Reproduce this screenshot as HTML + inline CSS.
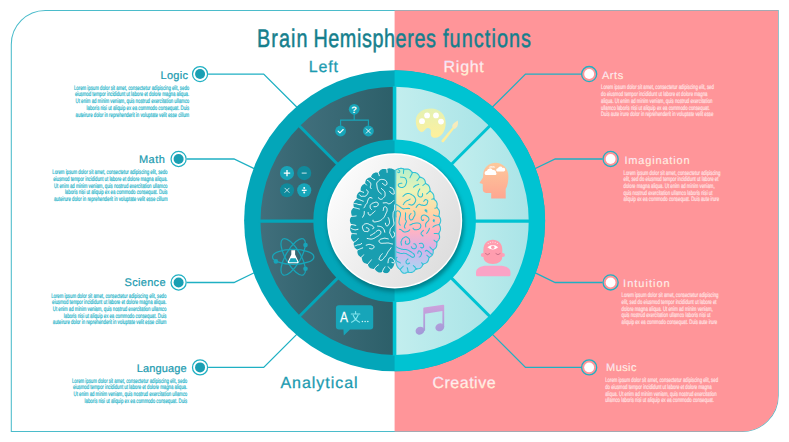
<!DOCTYPE html>
<html><head><meta charset="utf-8"><title>Brain Hemispheres functions</title>
<style>
html,body{margin:0;padding:0;background:#fff;}
body{width:789px;height:442px;overflow:hidden;font-family:"Liberation Sans",sans-serif;}
svg{display:block;position:absolute;left:0;top:0;}
text{font-family:"Liberation Sans",sans-serif;text-rendering:geometricPrecision;}
</style></head><body>
<svg width="789" height="442" viewBox="0 0 789 442">
<defs>
<clipPath id="clipL"><rect x="0" y="0" width="394.6" height="442"/></clipPath>
<clipPath id="clipR"><rect x="394.6" y="0" width="400" height="442"/></clipPath>
<linearGradient id="gSegL" x1="0" y1="0" x2="1" y2="0"><stop offset="0" stop-color="#416f7c"/><stop offset="1" stop-color="#2c5f69"/></linearGradient>
<linearGradient id="gSegR" x1="0" y1="0" x2="1" y2="0"><stop offset="0" stop-color="#c3eeee"/><stop offset="1" stop-color="#a9e4e7"/></linearGradient>
<linearGradient id="gDisc" x1="0.05" y1="0.2" x2="0.98" y2="0.75"><stop offset="0" stop-color="#fcfcfc"/><stop offset="0.5" stop-color="#ececec"/><stop offset="1" stop-color="#dddddd"/></linearGradient>
<filter id="fSh" x="-30%" y="-30%" width="160%" height="160%"><feGaussianBlur stdDeviation="2.2"/></filter>
<linearGradient id="gBrainR" x1="0" y1="0" x2="0" y2="1"><stop offset="0" stop-color="#b5f0cc"/><stop offset="0.22" stop-color="#ecf4b6"/><stop offset="0.42" stop-color="#ffd6a6"/><stop offset="0.60" stop-color="#ffb3c4"/><stop offset="0.78" stop-color="#d4b2ea"/><stop offset="1" stop-color="#a4dcf2"/></linearGradient>
<linearGradient id="gLabR" x1="0" y1="0.15" x2="0.12" y2="0.95"><stop offset="0" stop-color="#ecdfff"/><stop offset="0.45" stop-color="#fff0f2"/><stop offset="1" stop-color="#fff3bd"/></linearGradient>
<linearGradient id="gPal" x1="0" y1="0" x2="0" y2="1"><stop offset="0" stop-color="#e4f2b4"/><stop offset="1" stop-color="#fff09c"/></linearGradient>
<linearGradient id="gHead" x1="0" y1="0" x2="0" y2="1"><stop offset="0" stop-color="#fcc99c"/><stop offset="1" stop-color="#ffa691"/></linearGradient>
<linearGradient id="gInt" gradientUnits="userSpaceOnUse" x1="0" y1="240" x2="0" y2="276"><stop offset="0" stop-color="#ff9cab"/><stop offset="1" stop-color="#f8a6d2"/></linearGradient>
<linearGradient id="gMus" gradientUnits="userSpaceOnUse" x1="0" y1="304" x2="0" y2="335"><stop offset="0" stop-color="#cfa2dc"/><stop offset="1" stop-color="#a09ad8"/></linearGradient>
</defs>
<path d="M45.3 10.5 H778.2 V395.4 A36 36 0 0 1 742.2 431.4 H11.3 V44.5 A34 34 0 0 1 45.3 10.5 Z" fill="none" stroke="#4bbccb" stroke-width="1.05"/>
<path d="M394.6 10.5 H778.2 V395.4 A36 36 0 0 1 742.2 431.4 H394.6 Z" fill="#ff9599"/>
<polyline points="208.1,74.1 263.7,74.1 299.0,109.3" fill="none" stroke="#1fb0c3" stroke-width="1.3" stroke-linejoin="miter"/>
<circle cx="200.05" cy="74.05" r="7.55" fill="#fff" stroke="#1fb0c3" stroke-width="1.25"/>
<circle cx="200.05" cy="74.05" r="5.0" fill="#1a9fb3"/>
<polyline points="186.6,159.0 234.0,159.0 257.0,170.0" fill="none" stroke="#1fb0c3" stroke-width="1.3" stroke-linejoin="miter"/>
<circle cx="178.60" cy="158.97" r="7.55" fill="#fff" stroke="#1fb0c3" stroke-width="1.25"/>
<circle cx="178.60" cy="158.97" r="5.0" fill="#1a9fb3"/>
<polyline points="208.1,367.4 263.7,367.4 299.0,332.1" fill="none" stroke="#1fb0c3" stroke-width="1.3" stroke-linejoin="miter"/>
<circle cx="200.05" cy="367.39" r="7.55" fill="#fff" stroke="#1fb0c3" stroke-width="1.25"/>
<circle cx="200.05" cy="367.39" r="5.0" fill="#1a9fb3"/>
<polyline points="186.6,282.5 234.0,282.5 257.0,271.4" fill="none" stroke="#1fb0c3" stroke-width="1.3" stroke-linejoin="miter"/>
<circle cx="178.60" cy="282.47" r="7.55" fill="#fff" stroke="#1fb0c3" stroke-width="1.25"/>
<circle cx="178.60" cy="282.47" r="5.0" fill="#1a9fb3"/>
<polyline points="581.2,74.1 525.5,74.1 490.2,109.3" fill="none" stroke="#1fb0c3" stroke-width="1.3" stroke-linejoin="miter"/>
<circle cx="589.15" cy="74.05" r="7.55" fill="#ff9599" stroke="#1fb0c3" stroke-width="1.3"/>
<circle cx="589.15" cy="74.05" r="4.95" fill="#fff"/>
<polyline points="602.6,159.0 555.2,159.0 532.2,170.0" fill="none" stroke="#1fb0c3" stroke-width="1.3" stroke-linejoin="miter"/>
<circle cx="610.60" cy="158.97" r="7.55" fill="#ff9599" stroke="#1fb0c3" stroke-width="1.3"/>
<circle cx="610.60" cy="158.97" r="4.95" fill="#fff"/>
<polyline points="581.2,367.4 525.5,367.4 490.2,332.1" fill="none" stroke="#1fb0c3" stroke-width="1.3" stroke-linejoin="miter"/>
<circle cx="589.15" cy="367.39" r="7.55" fill="#ff9599" stroke="#1fb0c3" stroke-width="1.3"/>
<circle cx="589.15" cy="367.39" r="4.95" fill="#fff"/>
<polyline points="602.6,282.5 555.2,282.5 532.2,271.4" fill="none" stroke="#1fb0c3" stroke-width="1.3" stroke-linejoin="miter"/>
<circle cx="610.60" cy="282.47" r="7.55" fill="#ff9599" stroke="#1fb0c3" stroke-width="1.3"/>
<circle cx="610.60" cy="282.47" r="4.95" fill="#fff"/>
<g>
<circle cx="394.60" cy="220.85" r="150.50" fill="#03a6b9"/>
<path d="M395.30 354.95 A134.10 134.10 0 0 1 299.28 315.18 L336.81 278.04 A81.30 81.30 0 0 0 395.03 302.15 Z" fill="url(#gSegL)"/>
<path d="M300.27 316.17 A134.10 134.10 0 0 1 260.50 220.15 L313.30 220.42 A81.30 81.30 0 0 0 337.41 278.64 Z" fill="url(#gSegL)"/>
<path d="M260.50 221.55 A134.10 134.10 0 0 1 300.27 125.53 L337.41 163.06 A81.30 81.30 0 0 0 313.30 221.28 Z" fill="url(#gSegL)"/>
<path d="M299.28 126.52 A134.10 134.10 0 0 1 395.30 86.75 L395.03 139.55 A81.30 81.30 0 0 0 336.81 163.66 Z" fill="url(#gSegL)"/>
<line x1="474.35" y1="221.15" x2="530.15" y2="221.15" stroke="#03a6b9" stroke-width="3.1"/>
<line x1="450.98" y1="277.58" x2="490.43" y2="317.03" stroke="#03a6b9" stroke-width="3.0"/>
<line x1="338.12" y1="277.58" x2="298.67" y2="317.03" stroke="#03a6b9" stroke-width="3.0"/>
<line x1="314.75" y1="221.15" x2="258.95" y2="221.15" stroke="#03a6b9" stroke-width="3.1"/>
<line x1="338.12" y1="164.72" x2="298.67" y2="125.27" stroke="#03a6b9" stroke-width="3.0"/>
<line x1="450.98" y1="164.72" x2="490.43" y2="125.27" stroke="#03a6b9" stroke-width="3.0"/>
</g>
<g clip-path="url(#clipR)">
<circle cx="394.60" cy="220.85" r="150.50" fill="#00c3d2"/>
<path d="M393.90 86.75 A134.10 134.10 0 0 1 489.92 126.52 L452.39 163.66 A81.30 81.30 0 0 0 394.17 139.55 Z" fill="url(#gSegR)"/>
<path d="M488.93 125.53 A134.10 134.10 0 0 1 528.70 221.55 L475.90 221.28 A81.30 81.30 0 0 0 451.79 163.06 Z" fill="url(#gSegR)"/>
<path d="M528.70 220.15 A134.10 134.10 0 0 1 488.93 316.17 L451.79 278.64 A81.30 81.30 0 0 0 475.90 220.42 Z" fill="url(#gSegR)"/>
<path d="M489.92 315.18 A134.10 134.10 0 0 1 393.90 354.95 L394.17 302.15 A81.30 81.30 0 0 0 452.39 278.04 Z" fill="url(#gSegR)"/>
<line x1="474.35" y1="221.15" x2="530.15" y2="221.15" stroke="#00c3d2" stroke-width="3.1"/>
<line x1="450.98" y1="277.58" x2="490.43" y2="317.03" stroke="#00c3d2" stroke-width="3.0"/>
<line x1="338.12" y1="277.58" x2="298.67" y2="317.03" stroke="#00c3d2" stroke-width="3.0"/>
<line x1="314.75" y1="221.15" x2="258.95" y2="221.15" stroke="#00c3d2" stroke-width="3.1"/>
<line x1="338.12" y1="164.72" x2="298.67" y2="125.27" stroke="#00c3d2" stroke-width="3.0"/>
<line x1="450.98" y1="164.72" x2="490.43" y2="125.27" stroke="#00c3d2" stroke-width="3.0"/>
</g>
<line x1="394.55" y1="140.55" x2="394.55" y2="86.15" stroke="#00c3d2" stroke-width="3.6"/>
<line x1="394.55" y1="301.15" x2="394.55" y2="355.55" stroke="#00c3d2" stroke-width="3.6"/>
<circle cx="395.8" cy="223.7" r="68.2" fill="#04565f" opacity="0.6" filter="url(#fSh)"/>
<circle cx="394.6" cy="220.8" r="67.6" fill="#ffffff"/>
<circle cx="394.6" cy="220.8" r="66.1" fill="url(#gDisc)"/>
<!--BRAIN-->
<g>
<path d="M394.9 170.0L394.7 169.9L394.5 169.8L394.3 169.7L394.0 169.5L393.7 169.4L393.3 169.2L392.9 169.0L392.5 168.9L392.0 168.8L391.5 168.6L390.9 168.5L390.3 168.4L389.6 168.3L388.9 168.4L388.2 168.5L387.5 168.7L386.8 169.0L386.1 169.2L385.3 169.1L384.4 169.1L383.5 169.1L382.5 169.1L381.6 169.4L380.8 169.8L380.1 170.5L379.4 171.2L378.8 172.0L378.1 172.6L377.1 172.5L376.2 172.5L375.3 172.6L374.4 172.9L373.6 173.2L372.9 173.8L372.2 174.5L371.7 175.3L371.3 176.2L370.8 177.2L369.7 177.4L368.7 177.8L367.7 178.2L366.9 178.9L366.2 179.6L365.7 180.5L365.4 181.5L365.2 182.5L365.1 183.5L364.1 184.0L363.3 184.5L362.5 185.0L361.9 185.7L361.4 186.4L361.0 187.3L360.8 188.2L360.6 189.1L360.6 190.2L360.5 191.2L359.6 191.8L358.8 192.4L358.1 193.1L357.5 193.9L357.1 194.7L356.8 195.6L356.7 196.6L356.7 197.6L356.8 198.6L356.4 199.4L355.7 200.0L355.0 200.7L354.3 201.4L353.9 202.2L353.6 203.1L353.4 204.1L353.5 205.2L353.7 206.4L353.8 207.5L352.9 208.3L352.2 209.2L351.6 210.1L351.2 211.1L351.1 212.2L351.2 213.2L351.4 214.3L351.7 215.3L351.6 216.3L351.0 217.2L350.4 218.1L350.1 219.1L349.9 220.0L349.9 221.0L350.1 221.9L350.4 222.8L350.8 223.7L351.4 224.5L351.0 225.4L350.6 226.3L350.3 227.2L350.1 228.2L350.1 229.1L350.2 230.0L350.5 230.9L351.0 231.8L351.5 232.7L351.9 233.6L351.5 234.6L351.2 235.6L351.0 236.6L351.0 237.6L351.2 238.5L351.6 239.3L352.1 240.1L352.7 240.8L353.4 241.4L353.9 242.2L353.8 243.1L353.7 244.1L353.8 245.1L354.0 246.1L354.3 247.0L354.9 247.8L355.7 248.6L356.6 249.3L357.4 250.0L357.4 251.2L357.4 252.3L357.6 253.3L357.9 254.2L358.3 255.0L358.9 255.7L359.6 256.3L360.4 256.9L361.3 257.4L361.8 258.1L361.9 259.1L362.2 260.0L362.5 260.9L363.0 261.7L363.5 262.3L364.3 262.9L365.1 263.3L366.0 263.6L367.0 263.9L367.7 264.4L368.1 265.3L368.5 266.2L369.1 267.0L369.7 267.7L370.5 268.2L371.4 268.5L372.4 268.8L373.4 268.9L374.4 268.9L375.1 269.4L375.7 270.2L376.4 271.0L377.1 271.6L377.9 272.1L378.8 272.4L379.7 272.5L380.7 272.5L381.6 272.3L382.4 272.0L383.1 272.1L383.8 272.5L384.6 272.9L385.3 273.1L386.1 273.2L386.9 273.1L387.6 272.9L388.3 272.5L388.8 272.0L389.3 271.4L389.7 270.7L390.1 270.0L390.5 269.3L391.2 268.9L391.9 268.4L392.4 267.8L392.9 267.2L393.2 266.7L393.6 266.1L393.8 265.5L394.0 264.8L394.2 264.2L394.3 263.7L394.5 263.1L394.6 262.7L394.8 262.3L394.9 262.0Z" fill="#199eb0"/>
<path d="M386.7 168.7Q386.9 169.9 387.0 170.5Q387.0 171.1 387.1 171.7L387.1 172.3M378.0 172.3Q378.5 173.4 378.7 174.0Q378.9 174.5 379.1 175.1L379.3 175.7M370.6 176.9Q371.5 177.7 372.0 178.1Q372.5 178.5 373.0 178.8Q373.5 179.1 374.0 179.3L374.6 179.6M364.8 183.3Q365.7 184.1 366.2 184.5L366.6 185.0M360.2 191.0Q361.3 191.5 361.9 191.7Q362.5 191.9 363.0 192.1L363.6 192.3M356.5 198.4Q357.6 198.9 358.2 199.2Q358.7 199.4 359.3 199.6Q359.8 199.8 360.4 200.1Q361.0 200.3 361.5 200.5Q362.1 200.7 362.6 201.0L363.2 201.2M353.5 207.4Q354.6 207.7 355.2 207.9Q355.8 208.0 356.4 208.2Q356.9 208.3 357.5 208.5Q358.1 208.7 358.7 208.8L359.3 209.0M351.3 216.3Q352.5 216.3 353.1 216.3Q353.7 216.3 354.3 216.2Q354.9 216.2 355.5 216.0L356.1 215.9M351.1 224.6Q352.3 224.6 352.9 224.7Q353.5 224.8 354.0 224.9Q354.6 225.1 355.2 225.3L355.8 225.4M351.6 233.7Q352.8 233.6 353.4 233.6Q354.0 233.6 354.6 233.7Q355.2 233.7 355.8 233.8L356.4 233.9M353.6 242.3Q354.7 241.7 355.2 241.4Q355.7 241.1 356.2 240.7Q356.6 240.3 357.1 239.9Q357.5 239.5 357.9 239.0L358.2 238.5M357.2 250.2Q358.3 249.7 358.8 249.4Q359.4 249.2 359.9 249.0Q360.5 248.7 361.0 248.5Q361.6 248.3 362.1 248.1L362.7 247.9M361.1 257.5Q362.0 256.8 362.4 256.3Q362.8 255.9 363.1 255.4L363.5 254.9M367.5 264.6Q368.3 263.7 368.7 263.2Q369.0 262.8 369.4 262.3Q369.8 261.8 370.2 261.3Q370.5 260.9 370.9 260.4L371.3 259.9M374.2 269.1Q374.9 268.1 375.3 267.7Q375.7 267.2 376.1 266.8Q376.5 266.3 377.0 265.9Q377.4 265.6 377.9 265.2L378.4 264.9M382.3 272.3Q382.6 271.2 382.8 270.6Q383.0 270.0 383.3 269.5Q383.6 269.0 383.9 268.4Q384.2 267.9 384.6 267.5L384.9 267.0M390.7 269.5Q389.9 268.7 389.5 268.2Q389.1 267.8 388.7 267.3L388.3 266.8M374.0 206.7Q375.5 206.8 376.2 206.6Q376.9 206.4 377.5 205.9Q378.0 205.4 378.2 204.7Q378.5 203.9 378.1 203.3Q377.8 202.6 377.1 202.4Q376.3 202.1 375.6 202.2Q374.9 202.3 374.2 202.6Q373.5 202.9 372.8 203.1Q372.0 203.3 371.5 203.8Q371.0 204.4 370.5 204.9Q370.0 205.5 370.1 206.2Q370.2 207.0 370.2 207.7Q370.3 208.5 370.9 208.9L371.4 209.4M358.0 229.3Q356.5 229.6 355.8 229.8Q355.1 229.9 354.4 229.7Q353.6 229.5 352.9 229.3Q352.2 229.1 351.6 228.7L350.9 228.3M381.3 193.9Q380.2 193.0 379.6 192.5Q379.0 192.1 378.6 191.4Q378.3 190.8 378.0 190.1Q377.7 189.4 377.4 188.7Q377.2 188.0 377.1 187.2Q377.0 186.5 376.9 185.7Q376.8 185.0 376.7 184.3Q376.5 183.5 376.9 182.9Q377.3 182.2 377.8 181.7Q378.3 181.1 378.8 180.6Q379.3 180.0 380.0 179.7Q380.7 179.5 381.5 179.4Q382.2 179.4 382.9 179.5Q383.7 179.5 384.4 179.8Q385.1 180.0 385.7 180.5Q386.3 181.0 386.6 181.7Q386.9 182.3 387.0 183.1Q387.1 183.8 386.7 184.5Q386.4 185.1 385.6 185.3Q384.9 185.4 384.3 184.9Q383.7 184.4 383.1 184.0L382.5 183.5M367.2 238.5Q368.7 238.7 369.4 238.9Q370.2 239.0 370.9 239.1Q371.7 239.1 372.4 238.9Q373.1 238.7 373.8 238.4Q374.5 238.2 375.1 237.7Q375.7 237.3 376.4 236.9Q377.0 236.5 377.7 236.2Q378.4 235.8 379.0 235.4Q379.6 235.0 380.1 234.4Q380.6 233.8 380.8 233.1Q381.0 232.4 380.8 231.7Q380.6 231.0 380.0 230.6Q379.3 230.2 378.6 230.2Q377.8 230.3 377.2 230.7Q376.6 231.1 376.0 231.6Q375.5 232.1 375.0 232.7Q374.4 233.2 373.7 233.5Q373.1 233.8 372.5 234.3Q371.9 234.8 371.2 235.0L370.5 235.3M366.5 227.7Q368.0 228.0 368.5 228.6Q369.0 229.1 369.0 229.9Q368.9 230.6 368.4 231.2Q367.9 231.7 367.1 231.6Q366.4 231.5 365.6 231.5Q364.9 231.5 364.2 231.2Q363.5 230.9 363.3 230.2Q363.1 229.4 362.8 228.8Q362.5 228.1 362.4 227.3Q362.3 226.6 362.7 226.0Q363.1 225.3 363.6 224.8Q364.1 224.2 364.8 224.0Q365.5 223.7 366.2 223.6Q367.0 223.6 367.7 223.7Q368.4 223.8 369.0 224.3Q369.6 224.7 370.4 224.9Q371.1 225.0 371.8 225.4Q372.4 225.7 373.0 226.3Q373.5 226.8 373.8 227.5Q374.1 228.2 373.4 228.4L372.7 228.7M361.2 204.8Q359.7 204.6 359.0 204.6Q358.2 204.5 357.6 204.2Q356.9 203.8 356.2 203.7Q355.4 203.6 354.7 203.6L353.9 203.6M391.0 247.8Q390.2 249.1 389.7 249.7Q389.2 250.2 388.8 250.8Q388.3 251.4 387.9 252.0Q387.5 252.7 387.2 253.4Q386.9 254.0 386.5 254.7Q386.2 255.4 385.7 255.9Q385.2 256.5 384.7 257.1Q384.2 257.6 383.8 258.2Q383.3 258.8 382.8 259.4Q382.3 259.9 381.6 260.2Q380.9 260.5 380.2 260.3Q379.5 260.1 379.2 259.4Q378.9 258.7 379.3 258.1Q379.7 257.4 380.0 256.7Q380.3 256.0 380.7 255.4Q381.2 254.8 381.7 254.3L382.3 253.8M371.1 188.6Q370.1 187.5 370.3 186.8Q370.6 186.1 370.7 185.4Q370.9 184.7 370.8 183.9Q370.7 183.2 370.2 182.6Q369.8 182.0 369.2 181.5Q368.6 181.0 367.9 180.7L367.3 180.3M392.5 244.0Q391.0 243.8 390.3 243.5Q389.6 243.3 388.9 243.1Q388.1 242.9 387.4 243.0Q386.6 243.0 385.9 243.1Q385.1 243.3 384.4 243.2Q383.6 243.2 382.9 243.3Q382.2 243.3 381.4 243.3Q380.7 243.2 380.0 242.8Q379.4 242.4 379.1 241.7Q378.8 241.0 379.2 240.4Q379.6 239.8 380.2 239.4Q380.9 239.1 381.6 238.9Q382.4 238.7 383.1 238.5Q383.8 238.3 384.5 238.2Q385.3 238.2 386.0 238.4Q386.7 238.6 387.5 238.7L388.2 238.9M359.4 194.7Q360.3 195.9 361.0 196.2Q361.7 196.6 362.4 196.3Q363.1 196.1 363.8 196.3Q364.5 196.4 365.2 196.2Q366.0 196.0 366.4 195.4Q366.9 194.8 367.3 194.2Q367.7 193.5 368.0 192.8Q368.3 192.2 368.0 191.5Q367.7 190.8 367.1 190.3L366.5 189.9M384.8 232.2Q384.5 230.7 384.2 230.0Q383.9 229.3 383.5 228.7Q383.1 228.1 382.5 227.6Q381.9 227.1 381.2 226.8Q380.6 226.5 379.8 226.4Q379.1 226.3 378.3 226.2L377.6 226.1M393.7 231.9Q394.4 233.2 394.6 233.9Q394.8 234.7 394.5 235.4Q394.3 236.1 393.8 236.7Q393.4 237.3 392.7 237.7Q392.1 238.0 391.9 237.3Q391.7 236.5 391.3 235.9Q390.9 235.3 390.6 234.6Q390.3 233.9 389.9 233.3Q389.5 232.6 389.8 231.9Q390.1 231.2 390.1 230.5Q390.1 229.7 390.4 229.1Q390.7 228.4 391.2 227.8Q391.7 227.3 392.2 226.7Q392.8 226.2 393.2 225.6Q393.7 225.0 393.8 224.3Q394.0 223.5 393.9 222.8Q393.8 222.0 393.6 221.3Q393.4 220.6 393.4 219.8Q393.3 219.1 393.2 218.4Q393.1 217.6 393.0 216.9Q392.9 216.1 393.0 215.4Q393.0 214.6 393.1 213.9Q393.1 213.1 393.2 212.4Q393.4 211.7 393.9 211.1Q394.4 210.5 394.4 209.8Q394.4 209.0 394.6 208.3Q394.7 207.6 394.6 206.8Q394.4 206.1 394.6 205.4L394.9 204.7M368.1 212.5Q368.2 214.0 368.7 214.5Q369.2 215.1 370.0 215.1Q370.7 215.1 371.2 214.6Q371.7 214.0 372.2 213.5Q372.8 213.0 373.4 212.6Q374.0 212.2 374.5 211.6L375.0 211.0M373.0 220.2Q372.7 221.7 373.5 221.8Q374.2 222.0 375.0 221.9Q375.7 221.9 376.4 221.7Q377.2 221.6 377.9 221.4Q378.6 221.3 379.3 221.0Q380.0 220.6 380.7 220.3Q381.3 220.0 381.9 219.5Q382.4 219.0 383.0 218.4Q383.5 217.9 384.0 217.3Q384.4 216.7 384.8 216.1Q385.1 215.4 385.4 214.7Q385.6 214.0 386.0 213.3Q386.3 212.7 386.6 212.0Q387.0 211.3 387.1 210.6Q387.2 209.8 387.1 209.1Q387.0 208.3 386.7 207.7Q386.3 207.1 385.5 206.8Q384.8 206.6 384.2 207.0Q383.6 207.5 383.5 208.2Q383.5 208.9 383.4 209.7L383.2 210.4M393.6 200.6Q392.5 201.7 392.0 202.2Q391.4 202.7 390.8 203.1Q390.1 203.5 389.4 203.7Q388.7 204.0 388.1 203.6Q387.5 203.1 386.8 202.8Q386.1 202.6 385.4 202.7Q384.6 202.8 383.9 202.9L383.2 202.9M389.6 191.2Q390.5 192.4 391.0 193.0Q391.5 193.5 392.2 193.8Q392.9 194.1 393.6 194.1Q394.4 194.1 394.3 193.3Q394.2 192.6 394.1 191.8Q394.1 191.1 393.8 190.4Q393.4 189.7 393.2 189.0Q392.9 188.3 392.2 188.1Q391.5 187.9 390.8 187.6L390.1 187.3M372.1 198.1Q370.8 197.4 370.0 197.5Q369.3 197.6 368.9 198.3Q368.5 198.9 368.2 199.6Q367.9 200.3 367.6 201.0Q367.4 201.7 367.3 202.4Q367.1 203.2 366.6 203.7Q366.1 204.2 365.6 204.8Q365.2 205.4 365.0 206.1Q364.9 206.9 364.3 207.4L363.8 207.9M391.9 262.5Q393.2 263.1 393.9 262.7Q394.5 262.4 394.5 261.6Q394.4 260.9 394.1 260.2Q393.7 259.6 393.3 259.0Q392.8 258.4 392.1 258.1Q391.4 257.8 390.7 257.6Q390.0 257.4 389.5 257.9Q389.0 258.5 388.7 259.2Q388.4 259.9 388.3 260.6Q388.1 261.3 388.1 262.1L388.0 262.8M362.7 217.2Q363.4 215.9 363.8 215.2Q364.2 214.6 364.2 213.8Q364.3 213.1 364.3 212.3L364.3 211.6M378.3 197.7Q379.3 198.8 380.0 199.1Q380.6 199.5 381.4 199.3Q382.1 199.2 382.6 198.7Q383.2 198.1 383.7 197.6Q384.2 197.0 384.7 196.5Q385.1 195.9 385.1 195.1Q385.1 194.4 385.1 193.6Q385.1 192.9 384.9 192.2Q384.6 191.5 384.1 190.9Q383.6 190.4 383.0 189.9Q382.4 189.5 381.9 188.9L381.3 188.4M369.6 248.4Q371.0 248.9 371.7 248.9Q372.5 248.8 373.1 248.4Q373.8 248.0 374.0 247.3Q374.2 246.6 373.8 245.9Q373.4 245.3 372.6 245.3Q371.9 245.2 371.2 244.8Q370.6 244.4 369.8 244.4Q369.1 244.4 368.3 244.5Q367.6 244.7 366.9 245.0L366.2 245.2M361.7 243.5Q360.5 244.5 359.8 244.6Q359.1 244.8 358.3 244.8Q357.6 244.8 356.9 245.2Q356.3 245.5 355.5 245.7L354.8 245.9M385.4 223.2Q385.5 224.7 385.9 225.3Q386.4 225.9 387.2 225.9Q387.9 225.9 388.3 225.2Q388.6 224.5 389.0 223.9Q389.5 223.3 389.5 222.6Q389.6 221.8 389.4 221.1Q389.3 220.4 389.1 219.6Q388.9 218.9 388.6 218.2L388.2 217.6" fill="none" stroke="#ffffff" stroke-width="0.95" stroke-linecap="round" stroke-linejoin="round"/>
</g>
<g>
<path d="M395.7 170.0L395.9 169.9L396.1 169.8L396.3 169.7L396.6 169.5L396.9 169.4L397.3 169.2L397.7 169.0L398.1 168.9L398.6 168.8L399.1 168.6L399.7 168.5L400.3 168.4L401.0 168.3L401.7 168.4L402.4 168.5L403.1 168.7L403.8 169.0L404.5 169.2L405.3 169.1L406.2 169.1L407.1 169.1L408.1 169.1L409.0 169.4L409.8 169.8L410.5 170.5L411.2 171.2L411.8 172.0L412.5 172.6L413.5 172.5L414.4 172.5L415.3 172.6L416.2 172.9L417.0 173.2L417.7 173.8L418.4 174.5L418.9 175.3L419.3 176.2L419.8 177.2L420.9 177.4L421.9 177.8L422.9 178.2L423.7 178.9L424.4 179.6L424.9 180.5L425.2 181.5L425.4 182.5L425.5 183.5L426.5 184.0L427.3 184.5L428.1 185.0L428.7 185.7L429.2 186.4L429.6 187.3L429.8 188.2L430.0 189.1L430.0 190.2L430.1 191.2L431.0 191.8L431.8 192.4L432.5 193.1L433.1 193.9L433.5 194.7L433.8 195.6L433.9 196.6L433.9 197.6L433.8 198.6L434.2 199.4L434.9 200.0L435.6 200.7L436.3 201.4L436.7 202.2L437.0 203.1L437.2 204.1L437.1 205.2L436.9 206.4L436.8 207.5L437.7 208.3L438.4 209.2L439.0 210.1L439.4 211.1L439.5 212.2L439.4 213.2L439.2 214.3L438.9 215.3L439.0 216.3L439.6 217.2L440.2 218.1L440.5 219.1L440.7 220.0L440.7 221.0L440.5 221.9L440.2 222.8L439.8 223.7L439.2 224.5L439.6 225.4L440.0 226.3L440.3 227.2L440.5 228.2L440.5 229.1L440.4 230.0L440.1 230.9L439.6 231.8L439.1 232.7L438.7 233.6L439.1 234.6L439.4 235.6L439.6 236.6L439.6 237.6L439.4 238.5L439.0 239.3L438.5 240.1L437.9 240.8L437.2 241.4L436.7 242.2L436.8 243.1L436.9 244.1L436.8 245.1L436.6 246.1L436.3 247.0L435.7 247.8L434.9 248.6L434.0 249.3L433.2 250.0L433.2 251.2L433.2 252.3L433.0 253.3L432.7 254.2L432.3 255.0L431.7 255.7L431.0 256.3L430.2 256.9L429.3 257.4L428.8 258.1L428.7 259.1L428.4 260.0L428.1 260.9L427.6 261.7L427.1 262.3L426.3 262.9L425.5 263.3L424.6 263.6L423.6 263.9L422.9 264.4L422.5 265.3L422.1 266.2L421.5 267.0L420.9 267.7L420.1 268.2L419.2 268.5L418.2 268.8L417.2 268.9L416.2 268.9L415.5 269.4L414.9 270.2L414.2 271.0L413.5 271.6L412.7 272.1L411.8 272.4L410.9 272.5L409.9 272.5L409.0 272.3L408.2 272.0L407.5 272.1L406.8 272.5L406.0 272.9L405.3 273.1L404.5 273.2L403.7 273.1L403.0 272.9L402.3 272.5L401.8 272.0L401.3 271.4L400.9 270.7L400.5 270.0L400.1 269.3L399.4 268.9L398.7 268.4L398.2 267.8L397.7 267.2L397.4 266.7L397.0 266.1L396.8 265.5L396.6 264.8L396.4 264.2L396.3 263.7L396.1 263.1L396.0 262.7L395.8 262.3L395.7 262.0Z" fill="url(#gBrainR)" stroke="#35c3d6" stroke-width="1.1"/>
<path d="M403.9 168.7Q403.7 169.9 403.7 170.5Q403.6 171.1 403.5 171.7Q403.5 172.3 403.5 172.9L403.4 173.5M412.6 172.3Q412.1 173.4 411.8 174.0Q411.6 174.5 411.3 175.0Q411.0 175.6 410.8 176.1Q410.5 176.6 410.2 177.2L409.9 177.7M420.0 176.9Q419.2 177.9 418.8 178.3Q418.5 178.8 418.1 179.3Q417.7 179.7 417.4 180.2L417.0 180.7M425.8 183.3Q424.8 184.0 424.3 184.4Q423.8 184.7 423.3 185.1L422.9 185.4M430.4 191.0Q429.3 191.7 428.8 192.0Q428.4 192.4 427.9 192.8Q427.4 193.2 427.0 193.6L426.6 194.0M434.1 198.4Q433.0 198.9 432.4 199.1L431.8 199.3M437.1 207.4Q436.0 207.8 435.5 208.1L434.9 208.3M439.3 216.3Q438.1 216.3 437.5 216.2Q436.9 216.2 436.3 216.1Q435.7 216.0 435.1 215.8Q434.5 215.6 434.0 215.3L433.4 215.1M439.5 224.6Q438.3 224.6 437.7 224.8Q437.2 224.9 436.6 225.1Q436.0 225.2 435.5 225.5Q434.9 225.7 434.4 226.0Q433.9 226.3 433.4 226.7L432.9 227.1M439.0 233.7Q437.8 233.6 437.2 233.6Q436.6 233.5 436.0 233.5Q435.4 233.5 434.8 233.5L434.2 233.5M437.0 242.3Q435.9 241.7 435.4 241.4Q434.9 241.0 434.5 240.6L434.0 240.2M433.4 250.2Q432.4 249.5 432.0 249.2Q431.5 248.8 431.1 248.4Q430.6 247.9 430.3 247.5L429.9 247.0M429.5 257.5Q428.6 256.8 428.1 256.4Q427.7 256.0 427.3 255.6L426.8 255.2M423.1 264.6Q422.3 263.7 421.9 263.2L421.6 262.7M416.4 269.1Q415.7 268.1 415.3 267.6Q415.0 267.2 414.6 266.7Q414.2 266.3 413.7 265.9L413.3 265.5M408.3 272.3Q408.1 271.1 407.9 270.6Q407.8 270.0 407.7 269.4Q407.5 268.8 407.4 268.2L407.2 267.7M399.9 269.5Q400.8 268.7 401.2 268.3Q401.6 267.9 402.0 267.4Q402.5 267.0 402.9 266.5L403.2 266.1M400.5 177.1Q402.0 177.3 402.8 177.3Q403.5 177.4 404.2 177.6Q405.0 177.9 405.5 178.4Q406.0 179.0 406.2 179.7Q406.5 180.4 406.6 181.1Q406.7 181.9 406.5 182.6Q406.3 183.3 406.0 184.0Q405.8 184.7 405.4 185.4Q405.1 186.1 404.5 186.5Q404.0 187.0 403.2 187.2Q402.5 187.5 401.8 187.5Q401.0 187.4 400.3 187.2Q399.6 187.1 399.0 186.6Q398.4 186.1 398.3 185.4Q398.1 184.7 398.6 184.1Q399.0 183.5 399.8 183.4Q400.5 183.4 401.3 183.3L402.0 183.2M419.4 243.6Q420.8 243.2 421.6 243.3Q422.3 243.5 422.8 244.0Q423.3 244.6 423.6 245.3Q423.8 246.0 423.6 246.7Q423.4 247.5 422.7 247.8Q422.0 248.0 421.4 247.7L420.7 247.3M400.2 225.2Q399.2 224.0 399.1 223.3Q398.9 222.6 399.0 221.8Q399.1 221.1 399.2 220.3Q399.4 219.6 399.5 218.9Q399.6 218.1 399.8 217.4Q400.0 216.7 400.2 216.0Q400.5 215.2 400.5 214.5Q400.6 213.8 400.4 213.0Q400.3 212.3 399.7 211.8Q399.2 211.2 398.5 211.0Q397.8 210.7 397.1 210.9Q396.4 211.1 396.1 211.8Q395.8 212.5 395.8 213.3Q395.8 214.0 395.8 214.8Q395.7 215.5 395.9 216.3L396.0 217.0M396.2 246.9Q397.5 247.6 398.3 247.9Q399.0 248.1 399.7 248.4Q400.3 248.7 401.0 248.9Q401.8 249.2 402.5 249.3Q403.2 249.5 404.0 249.5Q404.7 249.5 405.5 249.5Q406.2 249.5 407.0 249.7Q407.7 249.8 408.3 250.2Q409.0 250.5 409.6 251.0Q410.2 251.4 410.9 251.8Q411.5 252.2 412.1 252.6Q412.8 253.0 413.3 253.5Q413.9 254.0 414.3 254.6Q414.6 255.3 414.5 256.0Q414.4 256.8 413.7 257.1Q413.1 257.5 412.3 257.3Q411.6 257.2 411.1 256.6Q410.6 256.1 409.9 255.7Q409.2 255.4 408.6 255.1Q407.9 254.8 407.3 254.4Q406.7 253.9 406.0 253.6Q405.3 253.4 404.5 253.3Q403.8 253.1 403.1 253.3Q402.3 253.5 401.6 253.4Q400.8 253.3 400.1 253.2Q399.4 253.0 398.7 252.8Q397.9 252.6 397.3 252.3L396.6 251.9M425.8 227.0Q425.5 225.5 425.6 224.8Q425.6 224.0 426.0 223.4Q426.4 222.8 426.9 222.2Q427.5 221.7 428.0 221.1Q428.5 220.6 428.8 219.9Q429.1 219.2 428.9 218.5Q428.7 217.7 428.2 217.2Q427.8 216.6 427.1 216.2Q426.4 215.9 425.8 215.5Q425.1 215.2 424.3 215.1Q423.6 215.0 422.9 215.3Q422.2 215.6 421.7 216.2Q421.3 216.8 421.2 217.5Q421.2 218.3 421.4 219.0Q421.7 219.7 422.2 220.3Q422.7 220.8 423.2 220.3L423.7 219.8M409.7 224.9Q411.2 224.6 411.9 224.2Q412.5 223.9 413.2 223.6Q413.9 223.3 414.6 223.2Q415.4 223.1 416.1 223.0Q416.9 222.9 417.6 222.9Q418.4 222.9 419.1 223.2Q419.7 223.5 420.2 224.0Q420.7 224.6 420.8 225.4Q420.9 226.1 420.7 226.8Q420.5 227.6 420.1 228.1Q419.6 228.7 418.9 229.1Q418.3 229.5 417.6 229.6Q416.8 229.8 416.1 229.8Q415.3 229.9 414.6 229.7Q413.9 229.4 413.5 228.8L413.0 228.2M409.6 208.6Q408.1 208.3 407.4 208.4Q406.6 208.4 405.9 208.6Q405.2 208.7 404.4 208.8Q403.7 209.0 403.0 208.7Q402.3 208.4 401.6 208.1Q400.9 207.8 400.4 207.2Q399.9 206.7 399.3 206.2Q398.8 205.7 398.1 205.4Q397.4 205.0 396.8 204.7L396.1 204.4M410.1 199.1Q408.9 199.9 408.2 200.2Q407.5 200.5 406.8 200.8Q406.1 201.1 405.6 201.6Q405.0 202.1 404.5 202.7Q404.0 203.3 403.7 203.9L403.3 204.6M426.5 233.3Q427.6 232.4 427.9 231.7Q428.2 231.0 428.6 230.4Q429.0 229.7 429.2 229.0L429.4 228.3M397.7 172.0Q398.8 173.0 399.3 172.5Q399.8 171.9 399.7 171.2Q399.5 170.4 398.9 170.1L398.2 169.7M411.0 213.5Q410.0 214.6 409.6 215.2Q409.3 215.9 409.2 216.6Q409.2 217.4 409.4 218.1Q409.7 218.8 410.1 219.4Q410.5 220.1 411.3 220.0Q412.0 219.9 412.5 219.3Q413.1 218.8 413.3 218.1Q413.6 217.4 413.9 216.7Q414.3 216.1 414.7 215.4Q415.1 214.8 415.0 214.0Q414.9 213.3 414.9 212.5Q414.9 211.8 414.3 211.3L413.8 210.8M405.1 228.1Q404.2 227.0 404.4 226.2Q404.6 225.5 404.9 224.8Q405.3 224.2 405.5 223.5Q405.8 222.8 406.2 222.1Q406.6 221.5 406.2 220.8Q405.8 220.2 405.5 219.5Q405.2 218.8 405.4 218.1Q405.5 217.3 405.5 216.6Q405.4 215.8 405.5 215.1Q405.6 214.3 405.6 213.6L405.5 212.8M402.9 196.3Q404.1 195.3 404.7 194.8Q405.3 194.4 406.0 194.1Q406.7 193.8 407.4 193.6Q408.1 193.5 408.9 193.5Q409.6 193.5 410.3 193.9Q411.0 194.2 411.6 194.6Q412.2 195.0 412.9 195.4Q413.5 195.8 414.0 196.4Q414.5 197.0 414.9 197.6Q415.3 198.2 415.5 198.9Q415.8 199.7 415.7 200.4Q415.6 201.2 415.3 201.8Q415.0 202.5 414.5 203.1Q414.1 203.7 413.5 204.2Q412.9 204.6 412.2 204.9Q411.5 205.3 410.9 204.9Q410.2 204.6 409.5 204.4L408.7 204.3M405.7 241.0Q405.2 242.4 405.4 243.1Q405.6 243.9 406.3 244.1Q407.0 244.4 407.7 244.2Q408.4 244.0 409.0 243.5Q409.5 243.0 409.7 242.3Q409.9 241.6 409.7 240.8Q409.5 240.1 409.4 239.4Q409.3 238.6 408.6 238.2Q408.0 237.9 407.4 237.4Q406.8 237.0 406.1 236.8Q405.3 236.6 404.7 237.1Q404.1 237.6 403.5 237.9Q402.8 238.3 402.4 238.9Q401.9 239.4 401.7 240.2Q401.5 240.9 401.2 241.6Q400.8 242.2 401.1 243.0Q401.3 243.7 401.4 244.4L401.6 245.1M423.8 201.4Q424.4 200.0 425.1 199.7Q425.8 199.5 426.5 199.7Q427.3 199.9 427.6 200.6Q428.0 201.2 427.7 201.9Q427.5 202.6 427.3 203.3Q427.1 204.1 426.5 204.5Q425.9 205.0 425.2 205.3Q424.6 205.7 423.9 205.4Q423.2 205.1 422.4 205.1Q421.7 205.1 421.0 204.9Q420.3 204.6 419.6 204.3Q418.9 204.0 418.4 204.5Q417.9 205.0 417.4 205.6Q416.9 206.2 416.5 206.8L416.1 207.4M417.8 253.3Q417.8 251.8 418.3 251.3Q418.8 250.7 419.5 251.0Q420.2 251.3 420.7 251.8Q421.2 252.4 421.5 253.1Q421.8 253.8 421.4 254.4Q421.1 255.1 420.8 255.8Q420.6 256.5 419.9 256.8L419.2 257.0M409.6 263.0Q408.5 264.0 407.8 263.9Q407.0 263.8 406.5 263.3Q406.0 262.7 406.0 261.9Q405.9 261.2 406.4 260.6Q406.9 260.0 407.4 259.5L408.0 259.0M399.4 229.3Q400.9 229.5 401.4 230.0Q401.9 230.6 402.5 231.0Q403.1 231.4 403.8 231.8Q404.4 232.1 405.2 231.9Q405.9 231.7 406.6 231.7Q407.4 231.7 408.1 231.3Q408.7 231.0 409.2 230.4L409.7 229.9M413.6 187.2Q414.7 186.2 415.3 185.8Q416.0 185.3 416.7 185.1Q417.4 184.8 418.1 184.6L418.8 184.3M423.0 236.0Q421.9 235.0 421.4 234.5Q420.9 233.9 421.1 233.1Q421.3 232.4 421.9 231.9Q422.4 231.4 422.9 230.9L423.4 230.3M425.3 251.2Q426.4 250.1 427.0 250.5Q427.6 250.9 428.2 251.3Q428.9 251.7 429.4 252.3Q429.9 252.8 430.5 253.3Q431.1 253.7 431.7 254.2L432.3 254.6M413.8 243.7Q415.3 243.7 415.6 244.4Q415.9 245.1 416.2 245.8Q416.5 246.5 416.3 247.2Q416.2 247.9 415.5 248.3Q414.9 248.7 414.2 248.8Q413.4 248.8 412.7 248.5Q412.0 248.2 411.7 247.5L411.3 246.8M433.5 221.2Q434.7 220.4 434.2 219.9Q433.6 219.5 433.3 220.2Q433.1 220.9 433.7 221.3L434.3 221.8M397.1 257.3Q395.8 258.0 395.9 258.8Q395.9 259.5 396.3 260.2Q396.6 260.9 397.2 261.3Q397.9 261.7 398.6 261.9Q399.3 262.1 399.9 262.6L400.5 263.0M419.8 188.9Q419.1 190.2 418.7 190.8Q418.4 191.5 418.2 192.2Q417.9 192.9 417.9 193.7Q417.9 194.4 418.0 195.2Q418.2 195.9 418.8 196.4Q419.4 196.9 420.1 197.0Q420.8 197.2 421.5 196.8Q422.1 196.4 422.4 195.7Q422.7 195.0 422.6 194.3L422.5 193.5M426.9 210.7Q426.1 209.4 425.4 209.8Q424.8 210.1 425.2 210.7Q425.7 211.3 426.4 211.7L427.0 212.0" fill="none" stroke="#2fc0d4" stroke-width="1.05" stroke-linecap="round" stroke-linejoin="round"/>
</g>
<!--ICONS-->
<g>
<path d="M354.2 114 V120.1 M340.6 125.8 V120.1 H368.4 V125.8" fill="none" stroke="#17a5b9" stroke-width="1.1"/>
<circle cx="354.2" cy="109.3" r="5.4" fill="#17a5b9"/>
<circle cx="340.6" cy="131.0" r="5.4" fill="#17a5b9"/>
<circle cx="368.4" cy="131.0" r="5.4" fill="#17a5b9"/>
<text x="354.2" y="112.7" font-size="9.4" font-weight="bold" fill="#fff" text-anchor="middle">?</text>
<path d="M338.1 131.2 L339.9 132.9 L343.2 129.5" fill="none" stroke="#fff" stroke-width="1.1" stroke-linecap="round" stroke-linejoin="round"/>
<path d="M366.3 128.9 L370.5 133.1 M370.5 128.9 L366.3 133.1" fill="none" stroke="#fff" stroke-width="0.9" stroke-linecap="round"/>
</g>
<g>
<circle cx="287" cy="173.1" r="7.05" fill="#17a5b9"/>
<circle cx="304.2" cy="173.1" r="7.05" fill="#108a9c"/>
<circle cx="287" cy="190.3" r="7.05" fill="#108a9c"/>
<circle cx="304.2" cy="190.3" r="7.05" fill="#17a5b9"/>
<path d="M283.8 173.1 H290.2 M287 169.9 V176.3" stroke="#fff" stroke-width="1.3" fill="none"/>
<path d="M301.7 173.1 H306.7" stroke="#fff" stroke-width="0.9" fill="none" opacity="0.9"/>
<path d="M284.6 187.9 L289.4 192.7 M289.4 187.9 L284.6 192.7" stroke="#fff" stroke-width="0.8" fill="none" opacity="0.9"/>
<path d="M301.8 190.3 H306.6" stroke="#fff" stroke-width="1.3" fill="none"/>
<circle cx="304.2" cy="188.1" r="1.0" fill="#fff"/><circle cx="304.2" cy="192.5" r="1.0" fill="#fff"/>
</g>
<g>
<ellipse cx="293.2" cy="256.9" rx="20.7" ry="7.5" transform="rotate(0 293.2 256.9)" fill="none" stroke="#17a5b9" stroke-width="1.25"/>
<ellipse cx="293.2" cy="256.9" rx="20.7" ry="7.5" transform="rotate(60 293.2 256.9)" fill="none" stroke="#17a5b9" stroke-width="1.25"/>
<ellipse cx="293.2" cy="256.9" rx="20.7" ry="7.5" transform="rotate(-60 293.2 256.9)" fill="none" stroke="#17a5b9" stroke-width="1.25"/>
<circle cx="305.5" cy="245.1" r="2.3" fill="#17a5b9"/>
<circle cx="275.9" cy="261.4" r="2.3" fill="#17a5b9"/>
<circle cx="305.5" cy="268.7" r="2.3" fill="#17a5b9"/>
<path d="M291.3 250.2 H295.1 V254.6 L298.5 261.6 Q299 263.2 297.4 263.2 H289 Q287.4 263.2 287.9 261.6 L291.3 254.6 Z" fill="#fff"/>
<path d="M290.7 258.2 H295.7 L297.3 261.5 Q297.5 262.2 296.8 262.2 H289.6 Q288.9 262.2 289.1 261.5 Z" fill="#17a5b9"/>
</g>
<g>
<path d="M339 305.2 H370.2 Q373.2 305.2 373.2 308.2 V326.4 Q373.2 329.4 370.2 329.4 H350 L343.8 335.6 L343.4 329.4 H339 Q335.9 329.4 335.9 326.4 V308.2 Q335.9 305.2 339 305.2 Z" fill="#17a5b9"/>
<text x="343.9" y="322.3" font-size="14.6" fill="#fff" stroke="#fff" stroke-width="0.25" text-anchor="middle" textLength="8.0" lengthAdjust="spacingAndGlyphs">A</text>
<path d="M355.6 311.6 V313.4 M351.3 314 H359.9 M353.2 315.3 Q355 320 359.6 322.3 M358 315.3 Q356.2 320 351.5 322.3" fill="none" stroke="#86e6ee" stroke-width="1.05" stroke-linecap="round"/>
<circle cx="362.4" cy="321.6" r="0.75" fill="#d8f6f8"/>
<circle cx="365.1" cy="321.6" r="0.75" fill="#d8f6f8"/>
<circle cx="367.8" cy="321.6" r="0.75" fill="#d8f6f8"/>
</g>
<g>
<path d="M415.8 121 C415.8 113 423 108.6 431 108.6 C440 108.6 445.7 115 445.7 123 C445.7 131 441 137.8 435.2 137.8 C431 137.8 430.4 134.6 430.9 132.2 C431.4 129.6 429.6 127.6 427.4 128 C425.4 128.4 425 130.4 423.4 131.5 C419.8 133.6 415.8 128 415.8 121 Z" fill="url(#gPal)"/>
<circle cx="427.1" cy="115.4" r="2.9" fill="#fff"/>
<circle cx="436.0" cy="115.4" r="2.9" fill="#fff"/>
<circle cx="422.0" cy="121.2" r="2.9" fill="#fff"/>
<circle cx="441.0" cy="121.6" r="2.9" fill="#fff"/>
<path d="M441.6 140.2 Q441 141.6 442.2 142.2 Q443.4 142.6 444.2 141.4 L454.2 128.4 L452.6 127.2 Z" fill="#fdef9e"/>
<path d="M452.4 127.4 C451.6 124.2 454.6 122.6 457.8 120.6 C458.4 123.8 458 127.4 454.6 129 Z" fill="#f7ebbc"/>
</g>
<g>
<path d="M491.2 198.6 H505.7 V189 C507.6 186 508.4 181 508.4 176 C508.4 168.4 502.6 162.8 495.6 162.8 C488.6 162.8 483.2 168 483.2 174.6 L483 177.6 L479.4 182.9 L482.7 184 L482.8 189.6 C482.8 192 484.4 193 486.6 193 H491.2 Z" fill="url(#gHead)"/>
<path d="M485.6 175 a2.3 2.3 0 0 1 1.3 -4.2 a3.1 3.1 0 0 1 5.8 -0.7 a2.4 2.4 0 0 1 3.3 2.6 a1.3 1.3 0 0 1 -0.6 2.3 Z" fill="#fff"/>
<path d="M497 171.6 a1.8 1.8 0 0 1 1 -3.3 a2.5 2.5 0 0 1 4.6 -0.3 a1.8 1.8 0 0 1 1.4 3.6 Z" fill="#fff"/>
<path d="M488.6 167.6 q1.6 -1.9 3.8 -1.2 q1.8 -0.6 3 1.2 Z" fill="#fff" opacity="0.9"/>
</g>
<g>
<circle cx="482.9" cy="255" r="2.1" fill="url(#gInt)"/><circle cx="502.8" cy="255" r="2.1" fill="url(#gInt)"/>
<path d="M483.4 249.6 C483.4 243.6 487.4 239.8 492.8 239.8 C498.2 239.8 502.3 243.6 502.3 249.6 V256.5 C502.3 261.2 498.4 264 492.8 264 C487.2 264 483.4 261.2 483.4 256.5 Z" fill="#ff9daf"/>
<path d="M476 274.8 V272.4 C476 268 481 265.7 486.5 265.7 H500 C505.5 265.7 510.5 268 510.5 272.4 V274.8 Q510.5 276.3 509 276.3 H477.5 Q476 276.3 476 274.8 Z" fill="#fba3c6"/>
<path d="M487.4 247.2 Q492.8 242.6 498.2 247.2 Q492.8 251.8 487.4 247.2 Z" fill="#fff"/>
<circle cx="492.8" cy="247.2" r="1.7" fill="#ff9daf"/>
<path d="M488.6 244.1 L487.9 243 M490.6 243.1 L490.2 241.9 M492.8 242.7 V241.5 M495 243.1 L495.4 241.9 M497 244.1 L497.7 243" stroke="#fff" stroke-width="0.6" fill="none"/>
<path d="M485.2 253.4 Q487.6 256 490 253.4 M495.6 253.4 Q498 256 500.4 253.4" stroke="#b8647c" stroke-width="0.75" fill="none"/>
</g>
<g fill="url(#gMus)">
<path d="M423.3 308.4 Q423.3 307.6 424.1 307.5 L443 304.8 Q444.2 304.6 444.2 305.8 V327.3 H442.4 V311 L425.1 313.7 V330.7 H423.3 Z"/>
<ellipse cx="420" cy="330.7" rx="4.5" ry="3.9" transform="rotate(-22 420 330.7)"/>
<ellipse cx="439.8" cy="327.3" rx="4.5" ry="3.9" transform="rotate(-22 439.8 327.3)"/>
</g>
<!--TEXT-->
<text transform="translate(257.00 46.90) scale(0.780 1)" font-size="25.4" fill="#157f8d" textLength="64.74" lengthAdjust="spacing" stroke="#157f8d" stroke-width="0.5">Brain</text>
<text transform="translate(313.40 46.90) scale(0.780 1)" font-size="25.4" fill="#157f8d" textLength="157.05" lengthAdjust="spacing" stroke="#157f8d" stroke-width="0.5">Hemispheres</text>
<text transform="translate(443.00 46.90) scale(0.780 1)" font-size="25.4" fill="#157f8d" textLength="112.82" lengthAdjust="spacing" stroke="#157f8d" stroke-width="0.5">functions</text>
<text x="308.80" y="72.30" font-size="16" fill="#1c9bb0" textLength="29.20" lengthAdjust="spacing" stroke="#1c9bb0" stroke-width="0.28">Left</text>
<text x="443.60" y="72.30" font-size="16" fill="url(#gLabR)" textLength="40.20" lengthAdjust="spacing" stroke="#ffe9ea" stroke-width="0.25">Right</text>
<text x="280.40" y="387.80" font-size="16" fill="#1c9bb0" textLength="77.20" lengthAdjust="spacing" stroke="#1c9bb0" stroke-width="0.28">Analytical</text>
<text x="432.40" y="387.80" font-size="16" fill="url(#gLabR)" textLength="63.20" lengthAdjust="spacing" stroke="#ffe9ea" stroke-width="0.25">Creative</text>
<text x="187.90" y="78.70" font-size="11" fill="#1c9bb0" text-anchor="end" textLength="27.40" lengthAdjust="spacing" stroke="#1c9bb0" stroke-width="0.22">Logic</text>
<text x="189.20" y="89.70" font-size="6.40" fill="#22b3c9" text-anchor="end" textLength="115.26" lengthAdjust="spacingAndGlyphs" stroke="#22b3c9" stroke-width="0.2">Lorem ipsum dolor sit amet, consectetur adipiscing elit, sedo</text>
<text x="189.20" y="96.42" font-size="6.40" fill="#22b3c9" text-anchor="end" textLength="114.31" lengthAdjust="spacingAndGlyphs" stroke="#22b3c9" stroke-width="0.2">eiusmod tempor incididunt ut labore et dolore magna aliqua.</text>
<text x="189.20" y="103.14" font-size="6.40" fill="#22b3c9" text-anchor="end" textLength="113.58" lengthAdjust="spacingAndGlyphs" stroke="#22b3c9" stroke-width="0.2">Ut enim ad minim veniam, quis nostrud exercitation ullamco</text>
<text x="189.20" y="109.86" font-size="6.40" fill="#22b3c9" text-anchor="end" textLength="102.59" lengthAdjust="spacingAndGlyphs" stroke="#22b3c9" stroke-width="0.2">laboris nisi ut aliquip ex ea commodo consequat. Duis</text>
<text x="189.20" y="116.58" font-size="6.40" fill="#22b3c9" text-anchor="end" textLength="113.59" lengthAdjust="spacingAndGlyphs" stroke="#22b3c9" stroke-width="0.2">auteirure dolor in reprehenderit in voluptate velit esse cillum</text>
<text x="164.80" y="162.80" font-size="11" fill="#1c9bb0" text-anchor="end" textLength="25.80" lengthAdjust="spacing" stroke="#1c9bb0" stroke-width="0.22">Math</text>
<text x="167.50" y="174.30" font-size="6.40" fill="#22b3c9" text-anchor="end" textLength="115.26" lengthAdjust="spacingAndGlyphs" stroke="#22b3c9" stroke-width="0.2">Lorem ipsum dolor sit amet, consectetur adipiscing elit, sedo</text>
<text x="167.50" y="181.02" font-size="6.40" fill="#22b3c9" text-anchor="end" textLength="114.31" lengthAdjust="spacingAndGlyphs" stroke="#22b3c9" stroke-width="0.2">eiusmod tempor incididunt ut labore et dolore magna aliqua.</text>
<text x="167.50" y="187.74" font-size="6.40" fill="#22b3c9" text-anchor="end" textLength="113.58" lengthAdjust="spacingAndGlyphs" stroke="#22b3c9" stroke-width="0.2">Ut enim ad minim veniam, quis nostrud exercitation ullamco</text>
<text x="167.50" y="194.46" font-size="6.40" fill="#22b3c9" text-anchor="end" textLength="102.59" lengthAdjust="spacingAndGlyphs" stroke="#22b3c9" stroke-width="0.2">laboris nisi ut aliquip ex ea commodo consequat. Duis</text>
<text x="167.50" y="201.18" font-size="6.40" fill="#22b3c9" text-anchor="end" textLength="113.59" lengthAdjust="spacingAndGlyphs" stroke="#22b3c9" stroke-width="0.2">auteirure dolor in reprehenderit in voluptate velit esse cillum</text>
<text x="165.50" y="286.00" font-size="11" fill="#1c9bb0" text-anchor="end" textLength="40.90" lengthAdjust="spacing" stroke="#1c9bb0" stroke-width="0.22">Science</text>
<text x="166.40" y="297.60" font-size="6.40" fill="#22b3c9" text-anchor="end" textLength="115.26" lengthAdjust="spacingAndGlyphs" stroke="#22b3c9" stroke-width="0.2">Lorem ipsum dolor sit amet, consectetur adipiscing elit, sedo</text>
<text x="166.40" y="304.32" font-size="6.40" fill="#22b3c9" text-anchor="end" textLength="114.31" lengthAdjust="spacingAndGlyphs" stroke="#22b3c9" stroke-width="0.2">eiusmod tempor incididunt ut labore et dolore magna aliqua.</text>
<text x="166.40" y="311.04" font-size="6.40" fill="#22b3c9" text-anchor="end" textLength="113.58" lengthAdjust="spacingAndGlyphs" stroke="#22b3c9" stroke-width="0.2">Ut enim ad minim veniam, quis nostrud exercitation ullamco</text>
<text x="166.40" y="317.76" font-size="6.40" fill="#22b3c9" text-anchor="end" textLength="102.59" lengthAdjust="spacingAndGlyphs" stroke="#22b3c9" stroke-width="0.2">laboris nisi ut aliquip ex ea commodo consequat. Duis</text>
<text x="166.40" y="324.48" font-size="6.40" fill="#22b3c9" text-anchor="end" textLength="113.59" lengthAdjust="spacingAndGlyphs" stroke="#22b3c9" stroke-width="0.2">auteirure dolor in reprehenderit in voluptate velit esse cillum</text>
<text x="186.60" y="371.70" font-size="11" fill="#1c9bb0" text-anchor="end" textLength="49.80" lengthAdjust="spacing" stroke="#1c9bb0" stroke-width="0.22">Language</text>
<text x="187.20" y="382.60" font-size="6.40" fill="#22b3c9" text-anchor="end" textLength="115.26" lengthAdjust="spacingAndGlyphs" stroke="#22b3c9" stroke-width="0.2">Lorem ipsum dolor sit amet, consectetur adipiscing elit, sedo</text>
<text x="187.20" y="389.32" font-size="6.40" fill="#22b3c9" text-anchor="end" textLength="114.31" lengthAdjust="spacingAndGlyphs" stroke="#22b3c9" stroke-width="0.2">eiusmod tempor incididunt ut labore et dolore magna aliqua.</text>
<text x="187.20" y="396.04" font-size="6.40" fill="#22b3c9" text-anchor="end" textLength="113.58" lengthAdjust="spacingAndGlyphs" stroke="#22b3c9" stroke-width="0.2">Ut enim ad minim veniam, quis nostrud exercitation ullamco</text>
<text x="187.20" y="402.76" font-size="6.40" fill="#22b3c9" text-anchor="end" textLength="102.59" lengthAdjust="spacingAndGlyphs" stroke="#22b3c9" stroke-width="0.2">laboris nisi ut aliquip ex ea commodo consequat. Duis</text>
<text x="601.90" y="78.70" font-size="11" fill="url(#gLabR)" text-anchor="start" textLength="21.30" lengthAdjust="spacing" stroke="#ffe9e6" stroke-width="0.12">Arts</text>
<text x="601.00" y="89.40" font-size="6.40" fill="#ffe3e4" text-anchor="start" textLength="112.86" lengthAdjust="spacingAndGlyphs" stroke="#ffe3e4" stroke-width="0.2">Lorem ipsum dolor sit amet, consectetur adipiscing elit, sed</text>
<text x="601.00" y="96.12" font-size="6.40" fill="#ffe3e4" text-anchor="start" textLength="106.42" lengthAdjust="spacingAndGlyphs" stroke="#ffe3e4" stroke-width="0.2">do eiusmod tempor incididunt ut labore et dolore magna</text>
<text x="601.00" y="102.84" font-size="6.40" fill="#ffe3e4" text-anchor="start" textLength="111.43" lengthAdjust="spacingAndGlyphs" stroke="#ffe3e4" stroke-width="0.2">aliqua. Ut enim ad minim veniam, quis nostrud exercitation</text>
<text x="601.00" y="109.56" font-size="6.40" fill="#ffe3e4" text-anchor="start" textLength="108.81" lengthAdjust="spacingAndGlyphs" stroke="#ffe3e4" stroke-width="0.2">ullamco laboris nisi ut aliquip ex ea commodo consequat.</text>
<text x="601.00" y="116.28" font-size="6.40" fill="#ffe3e4" text-anchor="start" textLength="112.39" lengthAdjust="spacingAndGlyphs" stroke="#ffe3e4" stroke-width="0.2">Duis aute irure dolor in reprehenderit in voluptate velit esse</text>
<text x="624.50" y="164.00" font-size="11" fill="url(#gLabR)" text-anchor="start" textLength="65.00" lengthAdjust="spacing" stroke="#ffe9e6" stroke-width="0.12">Imagination</text>
<text x="623.50" y="174.60" font-size="6.40" fill="#ffe3e4" text-anchor="start" textLength="96.84" lengthAdjust="spacingAndGlyphs" stroke="#ffe3e4" stroke-width="0.2">Lorem ipsum dolor sit amet, consectetur adipiscing</text>
<text x="623.50" y="181.32" font-size="6.40" fill="#ffe3e4" text-anchor="start" textLength="94.94" lengthAdjust="spacingAndGlyphs" stroke="#ffe3e4" stroke-width="0.2">elit, sed do eiusmod tempor incididunt ut labore et</text>
<text x="623.50" y="188.04" font-size="6.40" fill="#ffe3e4" text-anchor="start" textLength="91.10" lengthAdjust="spacingAndGlyphs" stroke="#ffe3e4" stroke-width="0.2">dolore magna aliqua. Ut enim ad minim veniam,</text>
<text x="623.50" y="194.76" font-size="6.40" fill="#ffe3e4" text-anchor="start" textLength="88.95" lengthAdjust="spacingAndGlyphs" stroke="#ffe3e4" stroke-width="0.2">quis nostrud exercitation ullamco laboris nisi ut</text>
<text x="623.50" y="201.48" font-size="6.40" fill="#ffe3e4" text-anchor="start" textLength="95.66" lengthAdjust="spacingAndGlyphs" stroke="#ffe3e4" stroke-width="0.2">aliquip ex ea commodo consequat. Duis aute irure</text>
<text x="623.10" y="286.90" font-size="11" fill="url(#gLabR)" text-anchor="start" textLength="46.60" lengthAdjust="spacing" stroke="#ffe9e6" stroke-width="0.12">Intuition</text>
<text x="621.60" y="297.20" font-size="6.40" fill="#ffe3e4" text-anchor="start" textLength="96.84" lengthAdjust="spacingAndGlyphs" stroke="#ffe3e4" stroke-width="0.2">Lorem ipsum dolor sit amet, consectetur adipiscing</text>
<text x="621.60" y="303.92" font-size="6.40" fill="#ffe3e4" text-anchor="start" textLength="94.94" lengthAdjust="spacingAndGlyphs" stroke="#ffe3e4" stroke-width="0.2">elit, sed do eiusmod tempor incididunt ut labore et</text>
<text x="621.60" y="310.64" font-size="6.40" fill="#ffe3e4" text-anchor="start" textLength="91.10" lengthAdjust="spacingAndGlyphs" stroke="#ffe3e4" stroke-width="0.2">dolore magna aliqua. Ut enim ad minim veniam,</text>
<text x="621.60" y="317.36" font-size="6.40" fill="#ffe3e4" text-anchor="start" textLength="88.95" lengthAdjust="spacingAndGlyphs" stroke="#ffe3e4" stroke-width="0.2">quis nostrud exercitation ullamco laboris nisi ut</text>
<text x="621.60" y="324.08" font-size="6.40" fill="#ffe3e4" text-anchor="start" textLength="95.66" lengthAdjust="spacingAndGlyphs" stroke="#ffe3e4" stroke-width="0.2">aliquip ex ea commodo consequat. Duis aute irure</text>
<text x="606.10" y="370.90" font-size="11" fill="url(#gLabR)" text-anchor="start" textLength="30.30" lengthAdjust="spacing" stroke="#ffe9e6" stroke-width="0.12">Music</text>
<text x="605.20" y="382.10" font-size="6.40" fill="#ffe3e4" text-anchor="start" textLength="112.86" lengthAdjust="spacingAndGlyphs" stroke="#ffe3e4" stroke-width="0.2">Lorem ipsum dolor sit amet, consectetur adipiscing elit, sed</text>
<text x="605.20" y="388.82" font-size="6.40" fill="#ffe3e4" text-anchor="start" textLength="106.42" lengthAdjust="spacingAndGlyphs" stroke="#ffe3e4" stroke-width="0.2">do eiusmod tempor incididunt ut labore et dolore magna</text>
<text x="605.20" y="395.54" font-size="6.40" fill="#ffe3e4" text-anchor="start" textLength="111.43" lengthAdjust="spacingAndGlyphs" stroke="#ffe3e4" stroke-width="0.2">aliqua. Ut enim ad minim veniam, quis nostrud exercitation</text>
<text x="605.20" y="402.26" font-size="6.40" fill="#ffe3e4" text-anchor="start" textLength="108.81" lengthAdjust="spacingAndGlyphs" stroke="#ffe3e4" stroke-width="0.2">ullamco laboris nisi ut aliquip ex ea commodo consequat.</text>
</svg>
</body></html>
